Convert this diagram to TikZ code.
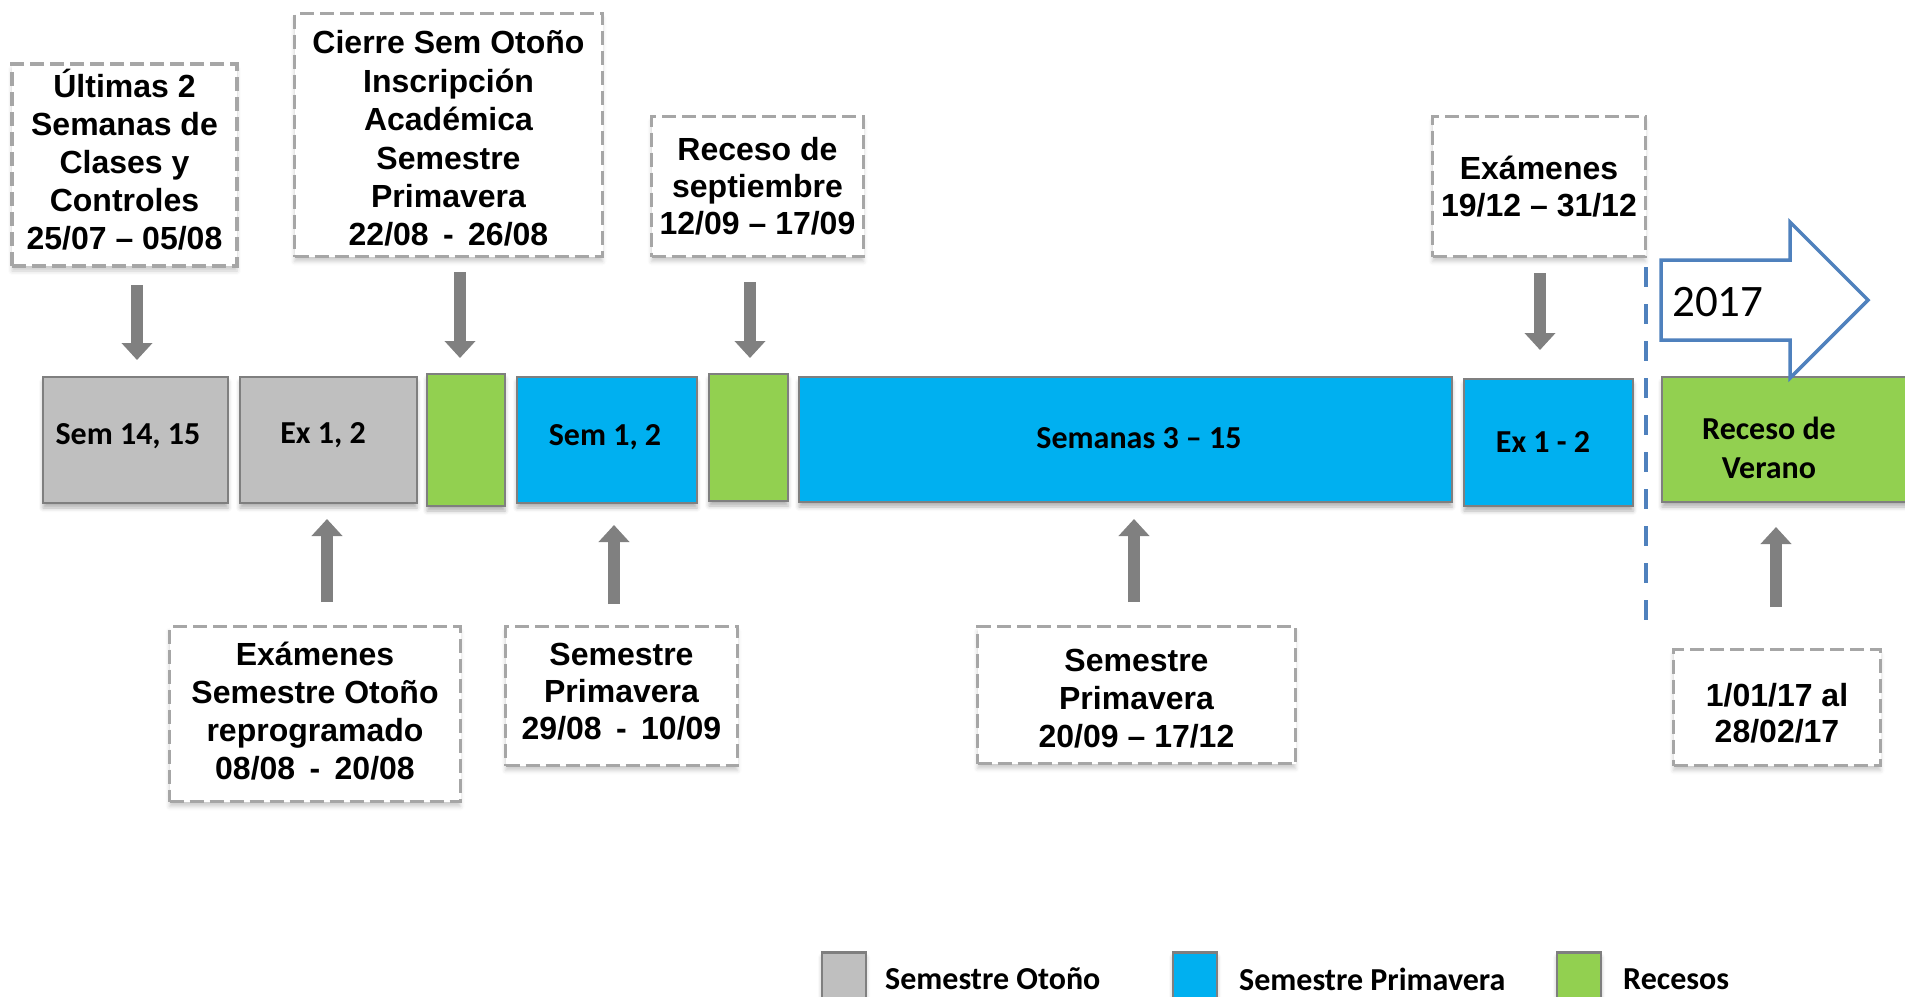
\documentclass[tikz,border=0pt]{standalone}
\usepackage{fontspec}
\setmainfont{Liberation Sans}
\newfontfamily\calib{Carlito}
\usetikzlibrary{arrows.meta,shadows.blur}
\definecolor{otono}{HTML}{BFBFBF}
\definecolor{prim}{HTML}{00B0F0}
\definecolor{rec}{HTML}{92D050}
\definecolor{edgec}{HTML}{7F7F7F}
\definecolor{dashc}{HTML}{A6A6A6}
\definecolor{azul}{HTML}{4F81BD}
\definecolor{flecha}{HTML}{808080}
\begin{document}
\begin{tikzpicture}[x=1pt,y=-1pt,
  bar/.style={draw=edgec,line width=2.5pt,inner sep=0pt,
    blur shadow={shadow xshift=0pt,shadow yshift=-5pt,shadow blur radius=4pt,shadow opacity=30}},
  bartext/.style={font=\calib\bfseries\fontsize{32}{39}\selectfont,align=center,inner sep=0pt},
  note/.style={draw=dashc,line width=3.5pt,dash pattern=on 14pt off 6pt,fill=white,inner sep=0pt,
    align=center,font=\bfseries\fontsize{32}{38}\selectfont,
    blur shadow={shadow xshift=0pt,shadow yshift=-5pt,shadow blur radius=4pt,shadow opacity=20}},
  blockarrow/.style={draw=flecha,line width=12pt,-{Triangle[width=30pt,length=17pt]}},
  legtext/.style={font=\calib\bfseries\fontsize{32}{39}\selectfont,anchor=west,inner sep=0pt},
]
\useasboundingbox (0,0) rectangle (1905,996);
\clip (0,0) rectangle (1905,996);

% timeline bars
\node[bar,fill=otono,minimum width=185pt,minimum height=126pt] (b1) at (135.5,440) {};
\node[bar,fill=otono,minimum width=177pt,minimum height=126pt] (b2) at (328.5,440) {};
\node[bar,fill=rec,minimum width=78pt,minimum height=132pt] (g1) at (466,440) {};
\node[bar,fill=prim,minimum width=180pt,minimum height=126pt] (b3) at (607,440) {};
\node[bar,fill=rec,minimum width=79pt,minimum height=127pt] (g2) at (748.5,437.5) {};
\node[bar,fill=prim,minimum width=653pt,minimum height=125pt] (b4) at (1125.5,439.5) {};
\node[bar,fill=prim,minimum width=169pt,minimum height=127pt] (b5) at (1548.5,442.5) {};
\node[bar,fill=rec,minimum width=267pt,minimum height=125pt] (b6) at (1795.5,439.5) {};

\node[bartext] (t1) at (128,436) {Sem 14, 15};
\node[bartext] (t2) at (323,435) {Ex 1, 2};
\node[bartext] (t3) at (605,437) {Sem 1, 2};
\node[bartext] (t4) at (1139,438) {Semanas 3 – 15};
\node[bartext] (t5) at (1543,442) {Ex 1 - 2};
\node[bartext] (t6) at (1769,448) {Receso de\\Verano};

% year arrow
\draw[azul,line width=3.5pt,fill=white,line join=miter]
  (1661,260) -- (1790,260) -- (1790,222) -- (1868,300) -- (1790,378) -- (1790,340) -- (1661,340) -- cycle;
\node[font=\calib\fontsize{45}{50}\selectfont,anchor=west,inner sep=0pt] (y2017) at (1672,302) {2017};

% year divider
\coordinate (d1) at (1646,267);
\coordinate (d2) at (1646,625);
\draw[azul,line width=3.5pt,dash pattern=on 20pt off 17pt] (d1) -- (d2);

% notes above
\node[note,minimum width=225pt,minimum height=202pt,text depth=10.5pt] (n1) at (124.5,165)
  {Últimas 2\\Semanas de\\Clases y\\Controles\\25/07 – 05/08};
\node[note,minimum width=308pt,minimum height=243pt,text height=222.5pt,font=\bfseries\fontsize{32}{38.4}\selectfont] (n2) at (448.5,135)
  {Cierre Sem Otoño\\Inscripción\\Académica\\Semestre\\Primavera\\22/08\hspace{0.45em}-\hspace{0.45em}26/08};
\node[note,minimum width=212pt,minimum height=140pt,font=\bfseries\fontsize{32}{37}\selectfont] (n3) at (757.5,186.5)
  {Receso de\\septiembre\\12/09 – 17/09};
\node[note,minimum width=213pt,minimum height=140pt,font=\bfseries\fontsize{32}{37}\selectfont] (n4) at (1539,186.5)
  {Exámenes\\19/12 – 31/12};

% notes below
\node[note,minimum width=291pt,minimum height=175pt,text depth=5.5pt] (n5) at (315,714)
  {Exámenes\\Semestre Otoño\\reprogramado\\08/08\hspace{0.45em}-\hspace{0.45em}20/08};
\node[note,minimum width=232pt,minimum height=139pt,text depth=8.5pt,font=\bfseries\fontsize{32}{37}\selectfont] (n6) at (621.5,696)
  {Semestre\\Primavera\\29/08\hspace{0.45em}-\hspace{0.45em}10/09};
\node[note,minimum width=318pt,minimum height=137pt,text height=105.5pt] (n7) at (1136.5,695)
  {Semestre\\Primavera\\20/09 – 17/12};
\node[note,minimum width=207pt,minimum height=116pt,text height=71pt,font=\bfseries\fontsize{32}{36}\selectfont] (n8) at (1777,707.5)
  {1/01/17 al\\28/02/17};

% pointer arrows
\coordinate (a1s) at (137,285);  \coordinate (a1e) at (137,360);
\coordinate (a2s) at (460,272);  \coordinate (a2e) at (460,358);
\coordinate (a3s) at (750,282);  \coordinate (a3e) at (750,358);
\coordinate (a4s) at (1540,273); \coordinate (a4e) at (1540,350);
\coordinate (a5s) at (327,602);  \coordinate (a5e) at (327,519);
\coordinate (a6s) at (614,604);  \coordinate (a6e) at (614,525);
\coordinate (a7s) at (1134,602); \coordinate (a7e) at (1134,519);
\coordinate (a8s) at (1776,607); \coordinate (a8e) at (1776,527);
\foreach \i in {1,...,8} \draw[blockarrow] (a\i s) -- (a\i e);

% legend
\node[bar,fill=otono,minimum width=44pt,minimum height=70pt,anchor=north] (l1) at (844,951) {};
\node[bar,fill=prim,minimum width=44pt,minimum height=70pt,anchor=north] (l2) at (1195,951) {};
\node[bar,fill=rec,minimum width=44pt,minimum height=70pt,anchor=north] (l3) at (1579,951) {};
\node[legtext] (lt1) at (885,979) {Semestre Otoño};
\node[legtext] (lt2) at (1239,979) {Semestre Primavera};
\node[legtext] (lt3) at (1623,979) {Recesos};
\end{tikzpicture}
\end{document}
